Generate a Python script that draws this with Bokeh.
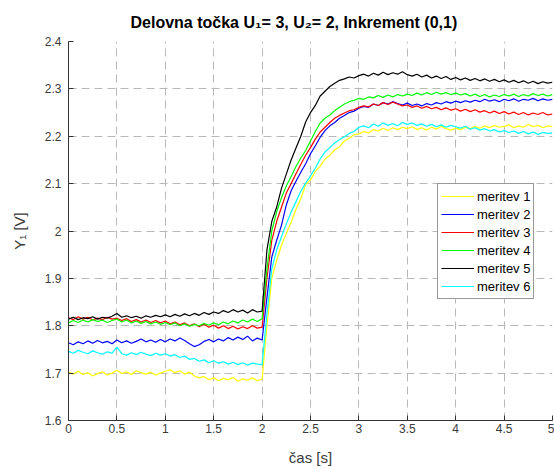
import numpy as np
from bokeh.plotting import figure
from bokeh.models import FixedTicker, CustomJSTickFormatter, Legend, LegendItem
from bokeh.embed import file_html
from bokeh.resources import INLINE

# time axis [s], 0.05 s sampling
t = np.round(np.arange(0, 5.0001, 0.05), 2)

meritev_1 = [
    1.702, 1.698, 1.704, 1.697, 1.701, 1.694, 1.699, 1.703, 1.696, 1.700,
    1.706, 1.699, 1.703, 1.697, 1.705, 1.701, 1.698, 1.702, 1.696, 1.700,
    1.704, 1.707, 1.701, 1.705, 1.698, 1.702, 1.694, 1.690, 1.693, 1.686,
    1.690, 1.684, 1.689, 1.686, 1.691, 1.683, 1.688, 1.685, 1.690, 1.684, 1.687,
    1.800, 1.900, 1.938, 1.970, 1.995, 2.018, 2.046, 2.068, 2.098, 2.108,
    2.126, 2.137, 2.152, 2.160, 2.171, 2.178, 2.190, 2.196, 2.203, 2.205,
    2.210, 2.207, 2.214, 2.211, 2.217, 2.212, 2.218, 2.214, 2.219, 2.216,
    2.220, 2.214, 2.218, 2.213, 2.219, 2.215, 2.221, 2.216, 2.213, 2.217,
    2.214, 2.219, 2.216, 2.221, 2.217, 2.222, 2.218, 2.223, 2.219, 2.221,
    2.224, 2.218, 2.222, 2.219, 2.225, 2.220, 2.223, 2.218, 2.222, 2.220,
]
meritev_2 = [
    1.764, 1.760, 1.766, 1.762, 1.768, 1.763, 1.769, 1.764, 1.767, 1.762,
    1.770, 1.764, 1.768, 1.763, 1.767, 1.772, 1.766, 1.770, 1.765, 1.771,
    1.766, 1.772, 1.768, 1.774, 1.769, 1.762, 1.756, 1.760, 1.767, 1.771,
    1.766, 1.772, 1.768, 1.775, 1.770, 1.776, 1.771, 1.778, 1.768, 1.774, 1.770,
    1.860, 1.945, 1.980, 2.012, 2.055, 2.085, 2.105, 2.124, 2.142, 2.163,
    2.180, 2.198, 2.212, 2.222, 2.229, 2.238, 2.244, 2.250, 2.253, 2.259,
    2.263, 2.261, 2.268, 2.265, 2.271, 2.268, 2.273, 2.269, 2.266, 2.270,
    2.265, 2.268, 2.264, 2.269, 2.266, 2.271, 2.268, 2.273, 2.270, 2.274,
    2.271, 2.275, 2.272, 2.276, 2.273, 2.278, 2.274, 2.277, 2.273, 2.278,
    2.275, 2.279, 2.274, 2.278, 2.276, 2.280, 2.275, 2.279, 2.276, 2.278,
]
meritev_3 = [
    1.817, 1.813, 1.819, 1.814, 1.818, 1.812, 1.816, 1.813, 1.818, 1.814,
    1.816, 1.811, 1.815, 1.809, 1.813, 1.808, 1.812, 1.807, 1.811, 1.806,
    1.810, 1.804, 1.808, 1.802, 1.806, 1.800, 1.804, 1.798, 1.803, 1.797,
    1.801, 1.795, 1.800, 1.794, 1.799, 1.793, 1.798, 1.794, 1.800, 1.795, 1.797,
    1.900, 1.980, 2.020, 2.050, 2.080, 2.100, 2.121, 2.141, 2.160, 2.176,
    2.194, 2.209, 2.219, 2.229, 2.238, 2.244, 2.249, 2.254, 2.256, 2.261,
    2.264, 2.262, 2.268, 2.265, 2.271, 2.267, 2.272, 2.268, 2.264, 2.266,
    2.261, 2.264, 2.259, 2.263, 2.258, 2.261, 2.256, 2.260, 2.255, 2.258,
    2.253, 2.257, 2.252, 2.256, 2.251, 2.254, 2.249, 2.253, 2.248, 2.252,
    2.247, 2.251, 2.246, 2.250, 2.245, 2.249, 2.246, 2.250, 2.245, 2.247,
]
meritev_4 = [
    1.806, 1.811, 1.807, 1.812, 1.808, 1.813, 1.809, 1.812, 1.807, 1.811,
    1.814, 1.808, 1.812, 1.806, 1.810, 1.805, 1.809, 1.804, 1.808, 1.803,
    1.807, 1.802, 1.806, 1.800, 1.804, 1.799, 1.803, 1.800, 1.805, 1.801,
    1.806, 1.802, 1.808, 1.804, 1.810, 1.806, 1.812, 1.808, 1.814, 1.809, 1.815,
    1.920, 2.000, 2.040, 2.070, 2.095, 2.115, 2.136, 2.154, 2.170, 2.190,
    2.210, 2.228, 2.238, 2.245, 2.254, 2.261, 2.268, 2.273, 2.276, 2.280,
    2.278, 2.283, 2.281, 2.286, 2.282, 2.287, 2.283, 2.288, 2.285, 2.289,
    2.286, 2.291, 2.287, 2.292, 2.288, 2.293, 2.289, 2.292, 2.288, 2.291,
    2.287, 2.290, 2.285, 2.289, 2.284, 2.288, 2.283, 2.287, 2.284, 2.288,
    2.285, 2.289, 2.284, 2.288, 2.285, 2.290, 2.286, 2.289, 2.285, 2.288,
]
meritev_5 = [
    1.814, 1.818, 1.813, 1.817, 1.815, 1.819, 1.814, 1.818, 1.816, 1.820,
    1.826, 1.818, 1.821, 1.817, 1.820, 1.816, 1.821, 1.818, 1.822, 1.819,
    1.823, 1.819, 1.824, 1.820, 1.825, 1.821, 1.826, 1.822, 1.828, 1.824,
    1.829, 1.826, 1.832, 1.828, 1.834, 1.829, 1.833, 1.827, 1.834, 1.829, 1.831,
    1.960, 2.020, 2.050, 2.090, 2.120, 2.150, 2.175, 2.200, 2.230, 2.250,
    2.265, 2.285, 2.295, 2.305, 2.312, 2.318, 2.321, 2.325, 2.323, 2.328,
    2.331, 2.327, 2.333, 2.329, 2.335, 2.330, 2.334, 2.331, 2.336, 2.330,
    2.327, 2.331, 2.325, 2.329, 2.323, 2.327, 2.322, 2.326, 2.320, 2.324,
    2.319, 2.323, 2.318, 2.322, 2.317, 2.321, 2.316, 2.320, 2.315, 2.319,
    2.314, 2.318, 2.313, 2.317, 2.312, 2.316, 2.311, 2.315, 2.312, 2.314,
]
meritev_6 = [
    1.746, 1.742, 1.748, 1.744, 1.741, 1.747, 1.743, 1.740, 1.745, 1.742,
    1.755, 1.741, 1.738, 1.743, 1.739, 1.744, 1.740, 1.737, 1.742, 1.738,
    1.741, 1.736, 1.739, 1.733, 1.736, 1.729, 1.731, 1.725, 1.728, 1.722,
    1.726, 1.721, 1.724, 1.719, 1.723, 1.718, 1.722, 1.717, 1.721, 1.719, 1.718,
    1.825, 1.920, 1.960, 1.988, 2.015, 2.040, 2.062, 2.084, 2.101, 2.116,
    2.133, 2.152, 2.167, 2.176, 2.186, 2.193, 2.199, 2.206, 2.210, 2.219,
    2.222, 2.218, 2.226, 2.221, 2.228, 2.223, 2.227, 2.222, 2.229, 2.225,
    2.228, 2.223, 2.226, 2.221, 2.225, 2.220, 2.224, 2.219, 2.223, 2.220,
    2.217, 2.221, 2.215, 2.218, 2.213, 2.216, 2.211, 2.214, 2.209, 2.212,
    2.208, 2.211, 2.206, 2.210, 2.205, 2.209, 2.204, 2.208, 2.206, 2.207,
]

series = [meritev_1, meritev_2, meritev_3, meritev_4, meritev_5, meritev_6]
labels = ["meritev 1", "meritev 2", "meritev 3", "meritev 4", "meritev 5", "meritev 6"]
colors = ["#FFFF00", "#0000FF", "#FF0000", "#00FF00", "#000000", "#00FFFF"]

x_ticks = [0, 0.5, 1, 1.5, 2, 2.5, 3, 3.5, 4, 4.5, 5]
y_ticks = [1.6, 1.7, 1.8, 1.9, 2.0, 2.1, 2.2, 2.3, 2.4]

title_text = "Delovna točka U\u2081= 3, U\u2082= 2, Inkrement (0,1)"
x_label = "čas [s]"
y_label = "Y\u2081 [V]"

FONT = "Liberation Sans"
AX = "#333333"
TXT = "#3a3a3a"

p = figure(width=554, height=469, x_range=(0, 5), y_range=(1.6, 2.4),
           output_backend="svg", toolbar_location=None, title=title_text)
p.min_border_left = 68
p.min_border_right = 2
p.min_border_top = 40
p.min_border_bottom = 49
p.outline_line_color = None
p.background_fill_color = "white"
p.border_fill_color = "white"

p.title.align = "left"
p.title.offset = 62
p.title.standoff = 22
p.title.text_font = FONT
p.title.text_font_size = "16px"
p.title.text_font_style = "bold"
p.title.text_color = "#000000"

fmt = CustomJSTickFormatter(code="return String(Math.round(tick*10)/10);")
for ax, ticks in ((p.xaxis[0], x_ticks), (p.yaxis[0], y_ticks)):
    ax.ticker = FixedTicker(ticks=ticks)
    ax.formatter = fmt
    ax.minor_tick_line_color = None
    ax.major_tick_in = 5
    ax.major_tick_out = 0
    ax.axis_line_color = AX
    ax.major_tick_line_color = AX
    ax.major_label_text_font = FONT
    ax.major_label_text_font_size = "12px"
    ax.major_label_text_color = TXT
    ax.axis_label_text_font = FONT
    ax.axis_label_text_font_size = "15px"
    ax.axis_label_text_font_style = "normal"
    ax.axis_label_text_color = TXT

p.xaxis.axis_label = x_label
p.yaxis.axis_label = y_label
p.xaxis.major_label_standoff = 3
p.yaxis.major_label_standoff = 7
p.xaxis.axis_label_standoff = 13
p.yaxis.axis_label_standoff = 14

p.grid.grid_line_color = "#b8b8b8"
p.grid.grid_line_dash = "8 5"
p.grid.grid_line_width = 1
p.xgrid.ticker = FixedTicker(ticks=x_ticks)
p.ygrid.ticker = FixedTicker(ticks=y_ticks)

items = []
for ys, lab, col in zip(series, labels, colors):
    r = p.line(t, ys, line_color=col, line_width=1.2)
    items.append(LegendItem(label=lab, renderers=[r]))

legend = Legend(items=items, location=(369, 121))
legend.label_text_font = FONT
legend.label_text_font_size = "13px"
legend.label_text_color = "#000000"
legend.glyph_width = 33
legend.glyph_height = 18
legend.label_height = 18
legend.spacing = 0
legend.padding = 3
legend.margin = 0
legend.label_standoff = 3
legend.border_line_color = "#333333"
legend.border_line_width = 1
legend.background_fill_color = "white"
legend.background_fill_alpha = 1
p.add_layout(legend, "center")

open("out.html", "w").write(file_html(p, INLINE))
